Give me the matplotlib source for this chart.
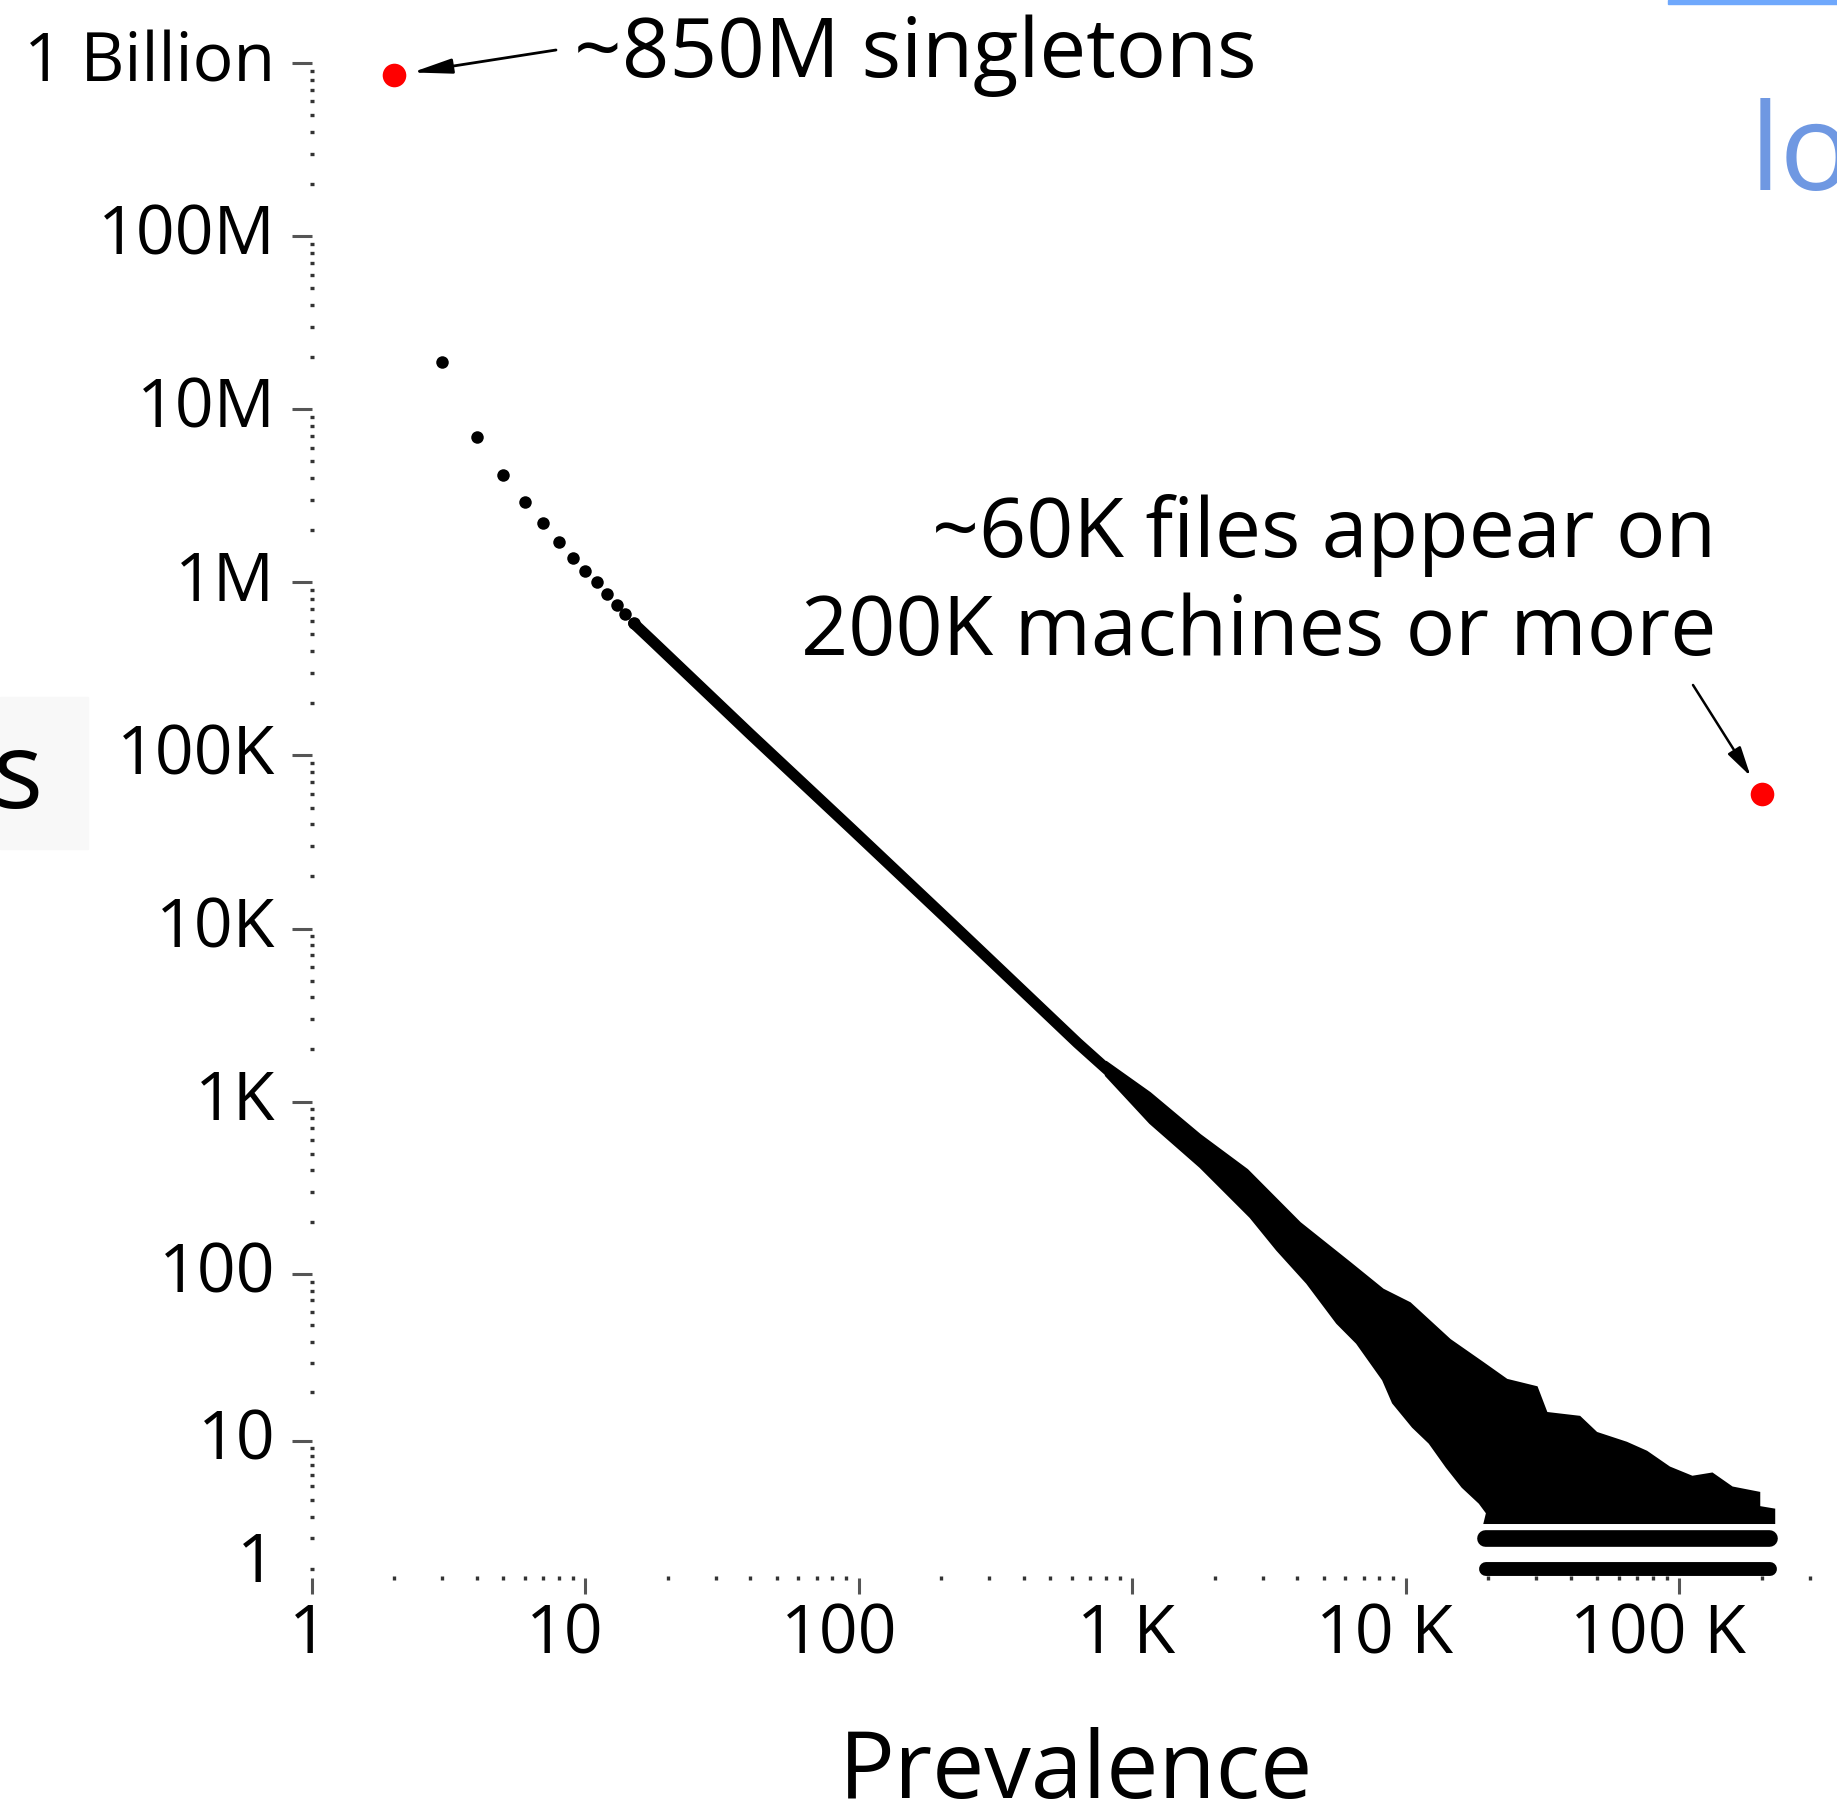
import numpy as np
import matplotlib
matplotlib.use("Agg")
import matplotlib.pyplot as plt
from matplotlib.ticker import FixedLocator, NullFormatter
from matplotlib.transforms import ScaledTranslation
from matplotlib.patches import Rectangle

plt.rcParams['font.family'] = ['Open Sans', 'DejaVu Sans']

# ---------------- data ----------------
# individually visible points (prevalence, number of files)
sparse_x = [3, 4, 5, 6, 7, 8, 9, 10, 11, 12, 13, 14, 15]
sparse_y = [18.7e6, 6.93e6, 4.17e6, 2.90e6, 2.19e6, 1.71e6, 1.38e6, 1.17e6,
            1.00e6, 853e3, 740e3, 656e3, 580e3]

# dense thin part of the cloud (centre line)
trend_x = [15, 17.4, 40, 94, 217, 630, 1160, 1770, 2700]
trend_y = [580e3, 465e3, 133e3, 37.6e3, 10.8e3, 2180, 918, 518, 296]

# wide scattered tail: upper and lower envelopes
band_up_x = [800, 1160, 1770, 2630, 4100, 6250, 8250, 10350, 14500, 19100,
             23400, 30100, 32700, 43200, 49800, 64100, 75900, 92000, 111500,
             131900, 156000, 195900, 195900, 222200, 222200]
band_up_y = [1700, 1120, 640, 402, 198, 116, 81, 67.5, 41, 30,
             23.7, 21.4, 14.9, 14.1, 11.2, 9.7, 8.5, 6.7, 5.8,
             6.1, 4.9, 4.5, 3.55, 3.4, 2.68]
band_lo_x = [800, 1160, 1770, 2700, 3380, 4350, 5600, 6620, 8250, 8970,
             10600, 12200, 14100, 16100, 18600, 19800, 19400]
band_lo_y = [1415, 751, 418, 214, 138, 88.5, 51.6, 39.3, 23.7, 17.2,
             12.2, 9.67, 6.74, 4.94, 3.80, 3.20, 2.68]

# rows of files with count 2 and 1 at high prevalence
stripe_y = [2, 1]
stripe_x0 = [19500, 19600]
stripe_x1 = [212000, 214000]

# highlighted points
red_x = [2, 200e3]
red_y = [850e6, 60e3]

xtick_vals = [1, 10, 100, 1e3, 1e4, 1e5]
xtick_labels = ['1', '10', '100', '1 K', '10 K', '100 K']
ytick_vals = [1, 10, 100, 1e3, 1e4, 1e5, 1e6, 1e7, 1e8, 1e9]
ytick_labels = ['1', '10', '100', '1K', '10K', '100K', '1M', '10M', '100M', '1 Billion']

# ---------------- figure ----------------
W, H = 1837, 1809
fig = plt.figure(figsize=(W / 100, H / 100), dpi=100)
ax = fig.add_axes([312 / W, 1 - 1578 / H, (1844 - 312) / W, (1578 - 63) / H])


def fwd(y):
    return np.log10(np.maximum(1 + np.asarray(y, float), 1e-12))


def inv(v):
    return 10 ** np.asarray(v, float) - 1


ax.set_xscale('log')
ax.set_yscale('function', functions=(fwd, inv))
ax.set_xlim(1, 4e5)
ax.set_ylim(0.77, 1e9)
for s in ax.spines.values():
    s.set_visible(False)

# tail band
poly_x = list(band_up_x) + list(band_lo_x[::-1])
poly_y = list(band_up_y) + list(band_lo_y[::-1])
ax.fill(poly_x, poly_y, color='black', lw=1.5, zorder=2)

# thin dense line
ax.plot(trend_x, trend_y, color='black', lw=8, solid_capstyle='round',
        solid_joinstyle='round', zorder=2)
# individual points
ax.plot(sparse_x, sparse_y, 'o', color='black', ms=9, mec='none', zorder=3)

# stripes
for yv, x0, x1, lw in zip(stripe_y, stripe_x0, stripe_x1, [12, 10]):
    ax.plot([x0, x1], [yv, yv], color='black', lw=lw, solid_capstyle='round', zorder=2)

# red highlighted points
ax.plot(red_x, red_y, 'o', color='#ff0000', ms=17, mec='none', zorder=4, clip_on=False)

# ---------------- ticks ----------------
ax.xaxis.set_major_locator(FixedLocator(xtick_vals))
ax.set_xticklabels(xtick_labels)
xminor = [k * 10 ** n for n in range(0, 6) for k in range(2, 10)]
ax.xaxis.set_minor_locator(FixedLocator(xminor))
ax.xaxis.set_minor_formatter(NullFormatter())

ax.yaxis.set_major_locator(FixedLocator(ytick_vals))
ax.set_yticklabels(ytick_labels)
yminor = [1] + [k * 10 ** n for n in range(0, 9) for k in range(2, 10)]
ax.yaxis.set_minor_locator(FixedLocator(yminor))
ax.yaxis.set_minor_formatter(NullFormatter())
ax.yaxis.remove_overlapping_locs = False

ax.tick_params(axis='x', which='major', direction='out', length=11.5, width=2.2,
               color='#555555', labelsize=49, pad=8.6)
ax.tick_params(axis='y', which='major', direction='out', length=14.4, width=2.2,
               color='#555555', labelsize=49, pad=12)
ax.tick_params(which='minor', direction='inout', length=3, width=2.4, color='#333333')

yticks = ax.yaxis.get_major_ticks()
yticks[0].tick1line.set_visible(False)
for i, t in enumerate(yticks):
    dy = 13 if i == 0 else 7
    t.label1.set_transform(t.label1.get_transform() +
                           ScaledTranslation(0, dy / 100, fig.dpi_scale_trans))
x_label_shift = [-4, -21, -20, -6, -21, -21]
for t, dx in zip(ax.xaxis.get_major_ticks(), x_label_shift):
    t.label1.set_transform(t.label1.get_transform() +
                           ScaledTranslation(dx / 100, 4 / 100, fig.dpi_scale_trans))

# ---------------- texts & arrows ----------------
fig.text(574 / W, 1 - 77 / H, '~850M singletons', fontsize=60, ha='left', va='baseline')
fig.text(1716 / W, 1 - 557 / H, '~60K files appear on', fontsize=59.4, ha='right', va='baseline')
fig.text(1716 / W, 1 - 655 / H, '200K machines or more', fontsize=59.4, ha='right', va='baseline')
fig.text(1076 / W, 1 - 1798 / H, 'Prevalence', fontsize=67, ha='center', va='baseline')

ax.annotate('', xy=(red_x[0], red_y[0]), xycoords='data',
            xytext=(556, H - 50), textcoords='figure pixels', annotation_clip=False,
            arrowprops=dict(arrowstyle='-|>,head_length=0.8,head_width=0.15',
                            mutation_scale=30, lw=2, color='black', shrinkA=0, shrinkB=13))
ax.annotate('', xy=(red_x[1], red_y[1]), xycoords='data',
            xytext=(1693, H - 685), textcoords='figure pixels', annotation_clip=False,
            arrowprops=dict(arrowstyle='-|>,head_length=0.6,head_width=0.15',
                            mutation_scale=30, lw=1.8, color='black', shrinkA=0, shrinkB=15))

# cropped pieces of the surrounding slide
fig.add_artist(Rectangle((0, 1 - 849 / H), 88 / W, 152 / H, transform=fig.transFigure,
                         color='#f8f8f8', zorder=0))
fig.text(44 / W, 1 - 808 / H, 'Files', fontsize=76, ha='right', va='baseline')
fig.add_artist(Rectangle((1668 / W, 1 - 4 / H), (W - 1668) / W, 4 / H,
                         transform=fig.transFigure, color='#6fa8fc'))
fig.text(1750 / W, 1 - 190 / H, 'log', fontsize=87, ha='left', va='baseline', color='#6f98e2')

fig.savefig('out.png', dpi=100)
